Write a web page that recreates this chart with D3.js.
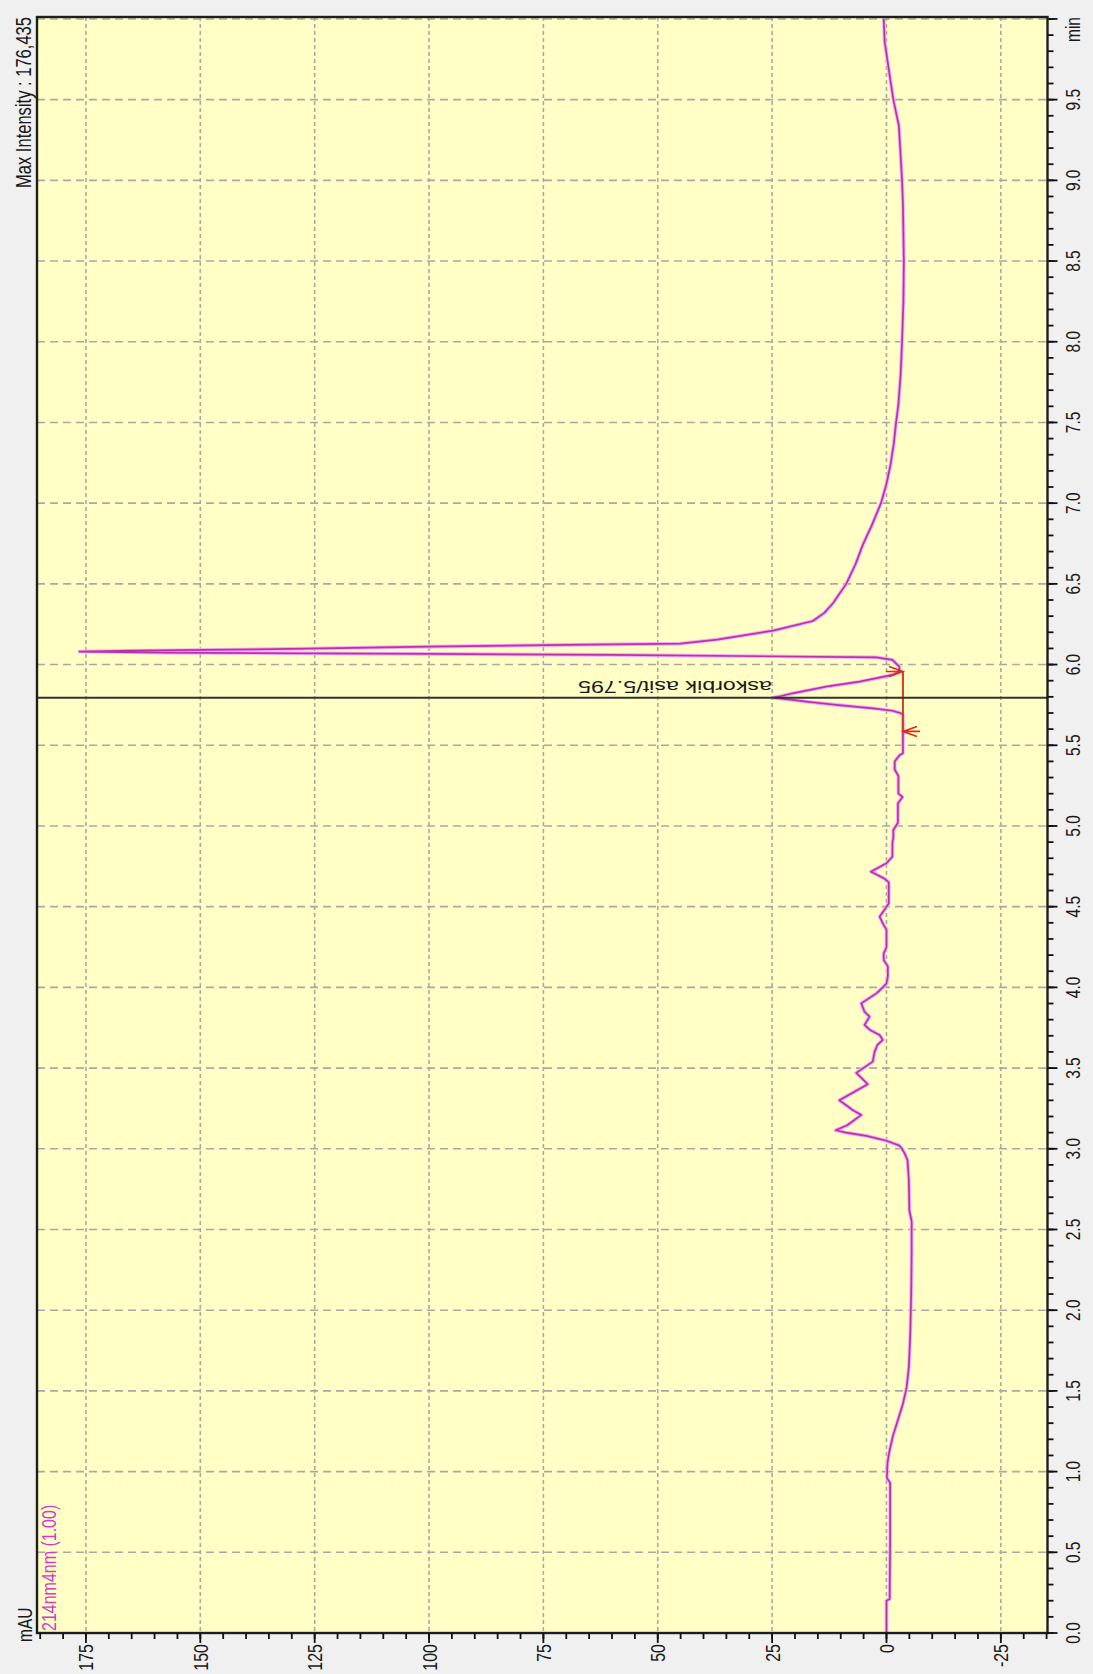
<!DOCTYPE html>
<html>
<head>
<meta charset="utf-8">
<script src="https://cdn.jsdelivr.net/npm/d3@7"></script>
<style>
  html, body { margin: 0; padding: 0; background: #f0f0f0; }
  svg { display: block; }
  text { font-family: "Liberation Sans", Arial, sans-serif; }
</style>
</head>
<body>
<svg id="chart" width="1093" height="1674"></svg>
<script>
// Chromatogram, 214 nm channel — retention time (min) vs absorbance (mAU)
const retentionTime = [
  0.00, 0.20, 0.21, 0.55, 0.93, 0.96, 1.05, 1.12, 1.22, 1.32, 1.42, 1.52, 1.65, 1.85, 2.10, 2.35,
  2.55, 2.62, 2.80, 2.93, 2.97, 3.00, 3.02, 3.05, 3.08, 3.10, 3.115, 3.147, 3.21, 3.24, 3.27, 3.30,
  3.36, 3.40, 3.47, 3.54, 3.60, 3.643, 3.674, 3.705, 3.736, 3.767, 3.819, 3.849, 3.901, 3.963, 4.00, 4.025,
  4.07, 4.13, 4.17, 4.21, 4.25, 4.356, 4.397, 4.438, 4.50, 4.52, 4.65, 4.675, 4.70, 4.717, 4.769, 4.81,
  4.895, 4.93, 4.975, 5.02, 5.14, 5.18, 5.20, 5.31, 5.35, 5.40, 5.44, 5.45, 5.69, 5.700, 5.714, 5.729,
  5.750, 5.770, 5.781, 5.790, 5.795, 5.805, 5.822, 5.863, 5.894, 5.936, 5.956, 5.987, 6.029, 6.045, 6.060, 6.066,
  6.074, 6.0805, 6.086, 6.097, 6.111, 6.122, 6.130, 6.155, 6.21, 6.27, 6.32, 6.38, 6.50, 6.62, 6.74, 6.87,
  7.00, 7.12, 7.24, 7.37, 7.50, 7.61, 7.80, 8.00, 8.25, 8.50, 8.66, 8.85, 9.00, 9.20, 9.34, 9.50,
  9.65, 9.86, 10.00
];
const absorbance = [
  0.0, 0.0, -0.7, -0.8, -0.8, -0.1, -0.2, -0.6, -1.4, -2.5, -3.6, -4.4, -4.9, -5.2, -5.4, -5.5,
  -5.5, -5.0, -4.9, -4.6, -4.0, -3.4, -2.8, 0.0, 4.4, 8.8, 11.1, 8.5, 5.5, 7.4, 8.8, 10.3,
  6.6, 4.1, 6.6, 3.0, 2.6, 2.0, 0.8, 1.5, 3.6, 4.8, 3.7, 4.8, 5.5, 2.2, 0.8, 0.0,
  -0.3, -0.3, 0.6, 0.6, 0.0, 0.0, 0.8, 1.5, 0.0, -0.5, -0.5, 0.5, 2.2, 3.4, 0.0, -1.3,
  -1.3, -1.5, -1.5, -2.5, -2.5, -3.5, -2.6, -2.6, -1.8, -1.8, -2.9, -3.6, -3.6, -3.0, -1.3, 3.0,
  11.0, 17.5, 20.5, 23.5, 24.8, 23.0, 20.5, 13.2, 5.9, -1.3, -2.8, -2.8, -1.3, 2.2, 60.0, 100.0,
  158.0, 176.435, 165.0, 130.0, 100.0, 70.0, 45.0, 37.0, 24.8, 16.1, 13.6, 11.7, 8.8, 6.8, 5.2, 3.1,
  1.2, 0.0, -0.9, -1.6, -2.1, -2.6, -3.1, -3.4, -3.7, -3.8, -3.7, -3.6, -3.4, -3.0, -2.7, -1.5,
  -0.7, 0.4, 0.6
];

// Integrated peak
const peakName = "askorbik asit";
const peakTime = 5.795;
const peakStart = 5.586;
const peakEnd = 5.957;
const baselineLevel = -3.6;
const maxIntensity = 176.435;

// Axis ticks
const timeMajorTicks = [0.0, 0.5, 1.0, 1.5, 2.0, 2.5, 3.0, 3.5, 4.0, 4.5, 5.0, 5.5, 6.0, 6.5, 7.0, 7.5, 8.0, 8.5, 9.0, 9.5, 10.0];
const timeTickLabels = ["0.0", "0.5", "1.0", "1.5", "2.0", "2.5", "3.0", "3.5", "4.0", "4.5", "5.0", "5.5", "6.0", "6.5", "7.0", "7.5", "8.0", "8.5", "9.0", "9.5", "min"];
const mauMajorTicks = [-25, 0, 25, 50, 75, 100, 125, 150, 175];
const mauTickLabels = ["-25", "0", "25", "50", "75", "100", "125", "150", "175"];

const svg = d3.select("#chart");
const frame = { left: 37, right: 1047.5, top: 17, bottom: 1633 };

// The chart is drawn turned on its side: time runs bottom-to-top, absorbance right-to-left
const y = d3.scaleLinear().domain([0, 10.012]).range([frame.bottom, frame.top]);
const x = d3.scaleLinear().domain([-35.2, 185.7]).range([frame.right, frame.left]);

const timeMinorTicks = d3.range(0, 100.5, 1).map(d => d / 10).filter(d => y(d) >= frame.top - 0.5);
const mauMinorTicks = d3.range(-35, 186, 5).filter(d => x(d) >= frame.left - 0.5 && x(d) <= frame.right + 0.5);

// Plot area
svg.append("rect")
  .attr("x", frame.left).attr("y", frame.top)
  .attr("width", frame.right - frame.left).attr("height", frame.bottom - frame.top)
  .attr("fill", "#ffffc6");

// Grid
const grid = svg.append("g").attr("stroke", "#a9a9a0").attr("stroke-width", 1.6).attr("fill", "none");
grid.selectAll("line.gt").data(timeMajorTicks.slice(1)).join("line")
  .attr("class", "gt")
  .attr("x1", frame.left).attr("x2", frame.right)
  .attr("y1", d => y(d)).attr("y2", d => y(d))
  .attr("stroke-dasharray", "8,5");
grid.selectAll("line.gm").data(mauMajorTicks).join("line")
  .attr("class", "gm")
  .attr("y1", frame.top).attr("y2", frame.bottom)
  .attr("x1", d => x(d)).attr("x2", d => x(d))
  .attr("stroke-dasharray", "4,3");

// Trace
const points = retentionTime.map((t, i) => [t, absorbance[i]]);
const line = d3.line().x(d => x(d[1])).y(d => y(d[0]));
svg.append("path").datum(points)
  .attr("d", line).attr("fill", "none")
  .attr("stroke", "#f3a8f0").attr("stroke-width", 3.6).attr("stroke-linejoin", "round");
svg.append("path").datum(points)
  .attr("d", line).attr("fill", "none")
  .attr("stroke", "#bb30b0").attr("stroke-width", 1.7).attr("stroke-linejoin", "round");

// Peak baseline with start / end markers
const bx = x(baselineLevel);
svg.append("line")
  .attr("x1", bx).attr("x2", bx)
  .attr("y1", y(peakStart)).attr("y2", y(peakEnd))
  .attr("stroke", "#d2401e").attr("stroke-width", 2);
const ys = y(peakStart), ye = y(peakEnd);
svg.append("path")
  .attr("d", `M${bx + 17},${ys} L${bx},${ys} M${bx + 14},${ys - 5} L${bx},${ys} L${bx + 14},${ys + 5}`)
  .attr("fill", "none").attr("stroke", "#e02a1a").attr("stroke-width", 1.6);
svg.append("path")
  .attr("d", `M${bx - 17},${ye} L${bx},${ye} M${bx - 14},${ye - 5} L${bx},${ye} L${bx - 14},${ye + 5}`)
  .attr("fill", "none").attr("stroke", "#e02a1a").attr("stroke-width", 1.6);

// Retention-time marker line
svg.append("line")
  .attr("x1", frame.left).attr("x2", frame.right)
  .attr("y1", y(peakTime)).attr("y2", y(peakTime))
  .attr("stroke", "#333333").attr("stroke-width", 2);

// Peak label (drawn upside down along the marker)
svg.append("text")
  .attr("transform", `translate(${x(24.8) - 1},${y(peakTime) - 17}) rotate(180)`)
  .attr("text-anchor", "start")
  .attr("font-size", 17)
  .attr("fill", "#1a1a1a")
  .attr("textLength", 194).attr("lengthAdjust", "spacingAndGlyphs")
  .text(`${peakName}/${d3.format(".3f")(peakTime)}`);

// Frame
svg.append("rect")
  .attr("x", frame.left).attr("y", frame.top)
  .attr("width", frame.right - frame.left).attr("height", frame.bottom - frame.top)
  .attr("fill", "none").attr("stroke", "#1e1e1e").attr("stroke-width", 2.4);

// Time axis (right side)
const tAxis = svg.append("g");
tAxis.selectAll("line.minor").data(timeMinorTicks).join("line")
  .attr("class", "minor")
  .attr("x1", frame.right).attr("x2", frame.right + 6)
  .attr("y1", d => y(d)).attr("y2", d => y(d))
  .attr("stroke", "#111").attr("stroke-width", 1.8);
tAxis.selectAll("line.major").data(timeMajorTicks).join("line")
  .attr("class", "major")
  .attr("x1", frame.right).attr("x2", frame.right + 10)
  .attr("y1", d => y(d)).attr("y2", d => y(d))
  .attr("stroke", "#111").attr("stroke-width", 1.8);
tAxis.selectAll("text").data(timeMajorTicks).join("text")
  .attr("transform", (d, i) => i === timeMajorTicks.length - 1
    ? `translate(1080,${frame.top}) scale(1.3,1) rotate(-90)`
    : `translate(1080,${y(d)}) scale(1.3,1) rotate(-90)`)
  .attr("text-anchor", (d, i) => i === timeMajorTicks.length - 1 ? "end" : "middle")
  .attr("font-size", 15.5)
  .attr("fill", "#1a1a1a")
  .text((d, i) => timeTickLabels[i]);

// Absorbance axis (bottom side)
const mAxis = svg.append("g");
mAxis.selectAll("line.minor").data(mauMinorTicks).join("line")
  .attr("class", "minor")
  .attr("y1", frame.bottom).attr("y2", frame.bottom + 6)
  .attr("x1", d => x(d)).attr("x2", d => x(d))
  .attr("stroke", "#111").attr("stroke-width", 1.8);
mAxis.selectAll("line.major").data(mauMajorTicks).join("line")
  .attr("class", "major")
  .attr("y1", frame.bottom).attr("y2", frame.bottom + 10)
  .attr("x1", d => x(d)).attr("x2", d => x(d))
  .attr("stroke", "#111").attr("stroke-width", 1.8);
mAxis.selectAll("text").data(mauMajorTicks).join("text")
  .attr("transform", d => `translate(${x(d) + 7.5},${frame.bottom + 11}) scale(1.3,1) rotate(-90)`)
  .attr("text-anchor", "end")
  .attr("font-size", 16)
  .attr("fill", "#1a1a1a")
  .text((d, i) => mauTickLabels[i]);

// Unit, channel and intensity captions
svg.append("text")
  .attr("transform", `translate(32,${frame.bottom + 9}) scale(1.3,1) rotate(-90)`)
  .attr("text-anchor", "start").attr("font-size", 15.5).attr("fill", "#1a1a1a")
  .text("mAU");
svg.append("text")
  .attr("transform", `translate(56,${frame.bottom - 2}) scale(1.3,1) rotate(-90)`)
  .attr("text-anchor", "start").attr("font-size", 16).attr("fill", "#d23ad0")
  .text("214nm4nm (1.00)");
svg.append("text")
  .attr("transform", `translate(31,188) scale(1.3,1) rotate(-90)`)
  .attr("text-anchor", "start").attr("font-size", 16.5).attr("fill", "#1a1a1a")
  .attr("textLength", 171).attr("lengthAdjust", "spacingAndGlyphs")
  .text("Max Intensity : " + d3.format(".3f")(maxIntensity).replace(".", ","));
</script>
</body>
</html>
